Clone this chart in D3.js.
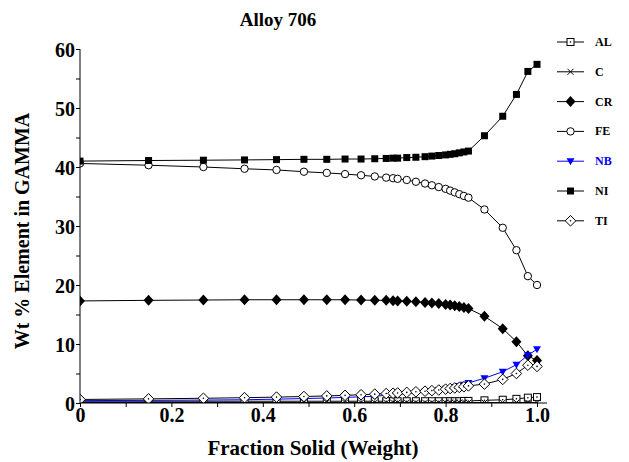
<!DOCTYPE html>
<html>
<head>
<meta charset="utf-8">
<script src="https://cdn.jsdelivr.net/npm/d3@7"></script>
<style>
  body { margin: 0; background: #fff; }
  text { font-family: "Liberation Serif", "Times New Roman", serif; font-weight: bold; }
</style>
</head>
<body>
<div id="chart"></div>
<script>
// fraction solid sample points (shared by every element)
const fractionSolid = [0, 0.15, 0.27, 0.36, 0.43, 0.49, 0.54, 0.58, 0.615, 0.645, 0.67, 0.685, 0.695,
  0.715, 0.735, 0.755, 0.77, 0.785, 0.8, 0.81, 0.82, 0.83, 0.84, 0.85, 0.885, 0.925, 0.955, 0.98, 1.0];

// wt % of each element in GAMMA
const alValues = [0.3, 0.3, 0.3, 0.3, 0.3, 0.3, 0.3, 0.3, 0.3, 0.3, 0.3, 0.3, 0.3,
  0.3, 0.3, 0.3, 0.3, 0.3, 0.3, 0.3, 0.3, 0.3, 0.35, 0.35, 0.45, 0.55, 0.7, 0.9, 1.0];
const cValues = [0.08, 0.08, 0.08, 0.08, 0.08, 0.08, 0.08, 0.08, 0.08, 0.08, 0.08, 0.08, 0.08,
  0.08, 0.08, 0.08, 0.08, 0.08, 0.08, 0.08, 0.08, 0.08, 0.08, 0.08, 0.08, 0.08, 0.08, 0.08, 0.08];
const crValues = [17.3, 17.4, 17.45, 17.5, 17.5, 17.5, 17.5, 17.5, 17.45, 17.4, 17.4, 17.35, 17.3,
  17.25, 17.15, 17.05, 16.95, 16.85, 16.7, 16.6, 16.5, 16.35, 16.2, 16.0, 14.7, 12.6, 10.4, 8.0, 7.2];
const feValues = [40.6, 40.3, 40.0, 39.7, 39.5, 39.2, 39.0, 38.8, 38.6, 38.4, 38.2, 38.1, 38.0,
  37.8, 37.5, 37.2, 36.9, 36.6, 36.3, 36.0, 35.7, 35.4, 35.1, 34.8, 32.8, 29.7, 25.9, 21.5, 20.0];
const nbValues = [0.4, 0.45, 0.5, 0.55, 0.65, 0.75, 0.85, 0.95, 1.05, 1.15, 1.3, 1.4, 1.45,
  1.6, 1.75, 1.9, 2.05, 2.2, 2.4, 2.55, 2.7, 2.9, 3.1, 3.4, 4.2, 5.3, 6.5, 8.1, 9.1];
const niValues = [41.0, 41.1, 41.15, 41.2, 41.25, 41.3, 41.3, 41.35, 41.35, 41.4, 41.45, 41.5, 41.5,
  41.6, 41.65, 41.75, 41.85, 41.95, 42.05, 42.15, 42.25, 42.4, 42.55, 42.7, 45.3, 48.6, 52.3, 56.2, 57.4];
const tiValues = [0.6, 0.7, 0.8, 0.9, 1.0, 1.1, 1.2, 1.3, 1.4, 1.5, 1.6, 1.65, 1.7,
  1.8, 1.9, 2.0, 2.1, 2.2, 2.35, 2.45, 2.55, 2.65, 2.75, 2.9, 3.2, 4.0, 5.0, 6.4, 6.2];

const elementNames = ["AL", "C", "CR", "FE", "NB", "NI", "TI"];
const xTicks = [0, 0.1, 0.2, 0.3, 0.4, 0.5, 0.6, 0.7, 0.8, 0.9, 1.0];
const yTicks = [0, 5, 10, 15, 20, 25, 30, 35, 40, 45, 50, 55, 60];

const series = [
  { name: "AL", values: alValues, marker: "squareDot", color: "#000" },
  { name: "C", values: cValues, marker: "cross", color: "#000" },
  { name: "CR", values: crValues, marker: "diamondFill", color: "#000" },
  { name: "FE", values: feValues, marker: "circle", color: "#000" },
  { name: "NB", values: nbValues, marker: "triangleDown", color: "#0000ff" },
  { name: "NI", values: niValues, marker: "squareFill", color: "#000" },
  { name: "TI", values: tiValues, marker: "diamondDot", color: "#000" }
];

const width = 629, height = 462;
const svg = d3.select("#chart").append("svg")
  .attr("width", width)
  .attr("height", height);

const x = d3.scaleLinear().domain([0, 1]).range([80, 537]);
const y = d3.scaleLinear().domain([0, 60]).range([403, 49]);

// title
svg.append("text")
  .attr("x", 278).attr("y", 26)
  .attr("text-anchor", "middle")
  .style("font-size", "19px")
  .text("Alloy 706");

// clip markers to the plot area
svg.append("clipPath").attr("id", "plotClip")
  .append("rect")
  .attr("x", 80).attr("y", 40)
  .attr("width", 475).attr("height", 363);

// marker drawing helper
function drawMarker(g, type, color) {
  if (type === "squareFill") {
    g.append("rect").attr("x", -3.5).attr("y", -3.5).attr("width", 7).attr("height", 7).attr("fill", color);
  } else if (type === "squareDot") {
    g.append("rect").attr("x", -3.5).attr("y", -3.5).attr("width", 7).attr("height", 7)
      .attr("fill", "#fff").attr("stroke", color).attr("stroke-width", 1);
    g.append("circle").attr("r", 0.8).attr("fill", color);
  } else if (type === "cross") {
    g.append("path").attr("d", "M-3,-3L3,3M-3,3L3,-3").attr("stroke", color).attr("stroke-width", 1);
  } else if (type === "diamondFill") {
    g.append("path").attr("d", "M0,-5.5L5,0L0,5.5L-5,0Z").attr("fill", color);
  } else if (type === "diamondDot") {
    g.append("path").attr("d", "M0,-5.3L5.3,0L0,5.3L-5.3,0Z").attr("fill", "#fff").attr("stroke", color).attr("stroke-width", 1);
    g.append("circle").attr("r", 0.8).attr("fill", color);
  } else if (type === "circle") {
    g.append("circle").attr("r", 3.7).attr("fill", "#fff").attr("stroke", color).attr("stroke-width", 1);
  } else if (type === "triangleDown") {
    g.append("path").attr("d", "M-4,-3L4,-3L0,4Z").attr("fill", color);
  }
}

const line = d3.line()
  .x(d => x(d[0]))
  .y(d => y(d[1]));

const plot = svg.append("g").attr("clip-path", "url(#plotClip)");

series.forEach(s => {
  const pts = fractionSolid.map((f, i) => [f, s.values[i]]);
  const g = plot.append("g");
  g.append("path")
    .datum(pts)
    .attr("d", line)
    .attr("fill", "none")
    .attr("stroke", s.color)
    .attr("stroke-width", 1);
  g.selectAll("g.mk")
    .data(pts)
    .enter()
    .append("g")
    .attr("class", "mk")
    .attr("transform", d => "translate(" + x(d[0]) + "," + y(d[1]) + ")")
    .each(function () { drawMarker(d3.select(this), s.marker, s.color); });
});

// X axis
const xAxis = svg.append("g")
  .attr("transform", "translate(0,403)")
  .call(d3.axisBottom(x)
    .tickValues(xTicks)
    .tickSize(4)
    .tickFormat(d => (Math.round(d * 10) % 2 === 0) ? (d === 0 ? "0" : d3.format(".1f")(d)) : ""));
xAxis.select(".domain").attr("d", "M80,0H547");
xAxis.selectAll("line").attr("stroke", "#000");
xAxis.selectAll("text")
  .attr("y", 19).attr("dy", 0)
  .attr("fill", "#000")
  .style("font-size", "20px");

svg.append("text")
  .attr("x", 313).attr("y", 455)
  .attr("text-anchor", "middle")
  .style("font-size", "21px")
  .text("Fraction Solid (Weight)");

// Y axis
const yAxis = svg.append("g")
  .attr("transform", "translate(80,0)")
  .call(d3.axisLeft(y)
    .tickValues(yTicks)
    .tickSize(4)
    .tickFormat(d => d % 10 === 0 ? d : ""));
yAxis.select(".domain").attr("d", "M0,403V49");
yAxis.selectAll("line").attr("stroke", "#000");
yAxis.selectAll("text")
  .attr("x", -5).attr("dy", "0.35em")
  .attr("fill", "#000")
  .style("font-size", "20px");

svg.append("text")
  .attr("transform", "translate(29,231) rotate(-90)")
  .attr("text-anchor", "middle")
  .style("font-size", "20px")
  .text("Wt % Element in GAMMA");

// legend
const legend = svg.append("g");
series.forEach((s, i) => {
  const ly = 42 + i * 29.8;
  const lg = legend.append("g").attr("transform", "translate(0," + ly + ")");
  lg.append("line")
    .attr("x1", 557).attr("x2", 584)
    .attr("stroke", s.color).attr("stroke-width", 1);
  const mk = lg.append("g").attr("transform", "translate(570.5,0)");
  drawMarker(mk, s.marker, s.color);
  lg.append("text")
    .attr("x", 595).attr("y", 4)
    .attr("fill", s.color)
    .style("font-size", "12px")
    .text(elementNames[i]);
});
</script>
</body>
</html>
